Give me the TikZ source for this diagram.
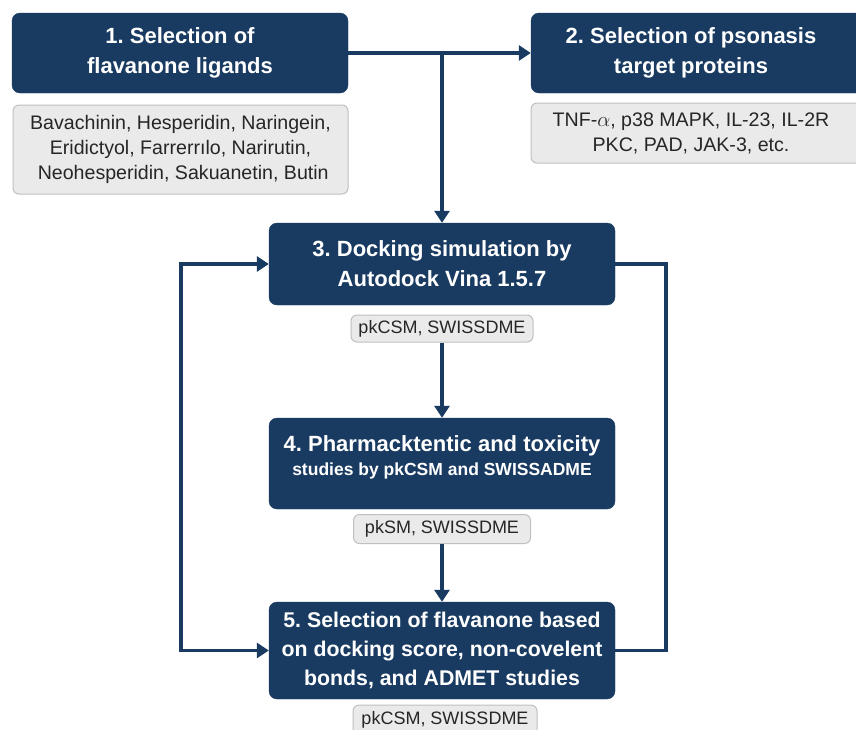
\documentclass[tikz,border=0pt]{standalone}
\usepackage{fontspec}
\setmainfont{Liberation Sans}
\usepackage{tikz}
\usetikzlibrary{arrows.meta}
\frenchspacing

\definecolor{navy}{RGB}{26,59,97}
\definecolor{toolfill}{RGB}{234,234,234}
\definecolor{tooledge}{RGB}{192,192,192}

\begin{document}
\begin{tikzpicture}[x=1pt, y=-1pt,
	>={Triangle[width=15pt,length=12pt]},
	stepbox/.style={draw=navy, fill=navy, rounded corners=8pt, text=white, align=center,
		font=\bfseries\fontsize{22}{30}\selectfont, inner sep=0pt},
	toolbox/.style={draw=tooledge, line width=1pt, fill=toolfill, rounded corners=6pt, align=center,
		text=black!85, inner sep=0pt},
	flow/.style={draw=navy, line width=3.5pt}]
	\clip (0,0) rectangle (856,729);
	\fill[white] (0,0) rectangle (856,729);
	\node[stepbox, minimum width=336pt, minimum height=80pt] (step1) at (180,53) {1. Selection of\\flavanone ligands};
	\node[toolbox, minimum width=335pt, minimum height=89pt, font=\fontsize{19.6}{25}\selectfont] (list1) at (180.5,149.5) {Bavachinin, Hesperidin, Naringein,\\Eridictyol, Farrerrılo, Narirutin,\\ \ Neohesperidin, Sakuanetin, Butin};
	\node[stepbox, minimum width=340pt, minimum height=80pt] (step2) at (701,53) {\hspace*{-20pt}2. Selection of psonasis\\\hspace*{-20pt}target proteins};
	\node[toolbox, minimum width=340pt, minimum height=60pt, font=\fontsize{19.6}{25}\selectfont] (list2) at (701,133) {\hspace*{-20pt}TNF-$\alpha$, p38 MAPK, IL-23, IL-2R\\\hspace*{-20pt}PKC, PAD, JAK-3, etc.};
	\node[stepbox, minimum width=346pt, minimum height=82pt] (step3) at (442,264) {3. Docking simulation by\\Autodock Vina 1.5.7};
	\node[toolbox, minimum width=182pt, minimum height=27pt, font=\fontsize{18}{22}\selectfont] (tool3) at (442,328.5) {pkCSM, SWISSDME};
	\node[stepbox, minimum width=346pt, minimum height=91pt, text depth=16pt] (step4) at (442,463.5) {4. Pharmacktentic and toxicity\\[-6pt]{\fontsize{17.5}{20}\selectfont studies by pkCSM and SWISSADME}};
	\node[toolbox, minimum width=177pt, minimum height=29pt, font=\fontsize{18}{22}\selectfont] (tool4) at (442,529) {pkSM, SWISSDME};
	\node[stepbox, minimum width=346pt, minimum height=97pt, font=\bfseries\fontsize{21.3}{29}\selectfont] (step5) at (442,650.5) {5. Selection of flavanone based\\on docking score, non-covelent\\bonds, and ADMET studies};
	\node[toolbox, minimum width=184pt, minimum height=30pt, font=\fontsize{18}{22}\selectfont] (tool5) at (445,720) {pkCSM, SWISSDME};
	% connectors
	\coordinate (split) at (step1.east -| step3.north);
	\coordinate (lloop) at (181,460);
	\coordinate (rloop) at (666,460);
	\draw[flow,->] (step1.east) -- (step2.west);
	\draw[flow,->] (split) -- (step3.north);
	\draw[flow,->] (tool3.south) -- (step4.north);
	\draw[flow,->] (tool4.south) -- (step5.north);
	\draw[flow] (step3.east) -| (rloop) |- (step5.east);
	\draw[flow,<->] (step3.west) -| (lloop) |- (step5.west);
\end{tikzpicture}
\end{document}
